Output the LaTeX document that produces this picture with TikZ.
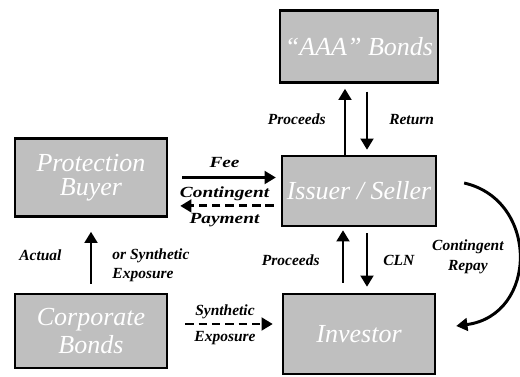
\documentclass[tikz,border=0pt]{standalone}
\usepackage{fontspec}
\setmainfont{Liberation Serif}
\usepackage{graphicx}
\usetikzlibrary{arrows.meta}
\definecolor{boxgray}{RGB}{191,191,191}
\newcommand{\wide}[1]{\scalebox{1.25}[1]{#1}}

\begin{document}
\begin{tikzpicture}[x=0.025cm,y=-0.025cm]
        \tikzset{party/.style={draw=black,line width=1.7pt,fill=boxgray,text=white,minimum width=3.8cm,align=center,font=\itshape\fontsize{18.5}{17}\selectfont},
            flow/.style={line width=2.1pt,-{Triangle[length=8pt,width=9pt]}},
            lbl/.style={inner sep=0pt,align=center,font=\bfseries\itshape\fontsize{11}{14}\selectfont}};
        \useasboundingbox (0,0) rectangle (520,376);
        % the five parties
        \node[party,minimum height=1.8cm] (aaa) at (359,46.5) {“AAA” Bonds};
        \node[party,minimum height=1.75cm] (iss) at (359,191) {Issuer / Seller};
        \node[party,minimum height=2.0cm] (inv) at (359,334) {Investor};
        \node[party,minimum height=1.95cm] (pb) at (91,177.5) {Protection\\Buyer};
        \node[party,minimum height=1.85cm,font=\itshape\fontsize{18.5}{20}\selectfont] (cb) at (91,331) {Corporate\\Bonds};
        % issuer and the collateral
        \draw[flow,shorten >=0.125cm] ([xshift=-0.35cm]iss.north) -- node[lbl,left=0.45cm] {Proceeds} ([xshift=-0.35cm]aaa.south);
        \draw[flow,shorten <=0.2cm,shorten >=0.125cm] ([xshift=0.2cm]aaa.south) -- node[lbl,right=0.52cm] {Return} ([xshift=0.2cm]iss.north);
        % issuer and investor
        \draw[flow,shorten <=0.25cm,shorten >=0.075cm] ([xshift=-0.4cm]inv.north) -- node[lbl,left=0.55cm] {Proceeds} ([xshift=-0.4cm]iss.south);
        \draw[flow,shorten <=0.15cm,shorten >=0.15cm] ([xshift=0.2cm]iss.south) -- node[lbl,right=0.37cm] {CLN} ([xshift=0.2cm]inv.north);
        % protection buyer and issuer
        \draw[flow,shorten <=0.35cm,shorten >=0.125cm] (pb.east) -- node[lbl,above=0.22cm] {\wide{Fee}} (pb.east -| iss.west);
        \coordinate (pay) at ([yshift=-0.71cm]pb.east);
        \draw[flow,dash pattern=on 6pt off 3.5pt,shorten <=0.175cm,shorten >=0.3cm] (pay -| iss.west) -- node[lbl,above=0.08cm] {\wide{Contingent}} node[lbl,below=0.14cm] {\wide{Payment}} (pay);
        % exposure to the reference bonds
        \draw[flow,shorten <=0.225cm,shorten >=0.35cm] (cb.north) -- node[lbl,left=0.7cm] {Actual} node[lbl,right=0.5cm,yshift=-0.25cm,align=left] {or Synthetic\\Exposure} (pb.south);
        \coordinate (syn) at ([yshift=0.175cm]cb.east);
        \draw[flow,dash pattern=on 6pt off 3.5pt,shorten <=0.425cm,shorten >=0.225cm] (syn) -- node[lbl,above=0.1cm] {Synthetic} node[lbl,below=0.14cm] {Exposure} (syn -| inv.west);
        % contingent repayment
        \draw[flow] ([shift={(27,-8)}]iss.east) .. controls +(75,17) and +(82,-11) .. node[lbl,pos=0.5,left=0.35cm] {Contingent\\Repay} ([shift={(20,-8)}]inv.east);
    \end{tikzpicture}
\end{document}
